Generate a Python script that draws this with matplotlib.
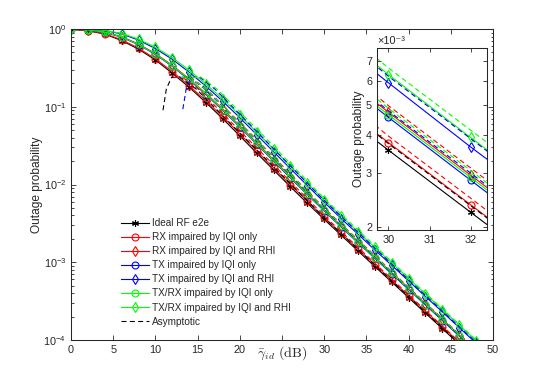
import matplotlib
matplotlib.use("Agg")
import matplotlib.pyplot as plt
from matplotlib.lines import Line2D
from matplotlib.ticker import LogLocator, NullLocator, NullFormatter, FixedLocator

plt.rcParams['font.family'] = ['Liberation Sans', 'DejaVu Sans']
plt.rcParams['mathtext.fontset'] = 'cm'

# average SNR (dB), markers every 2 dB
snr = [0, 2, 4, 6, 8, 10, 12, 14, 16, 18, 20, 22, 24, 26, 28, 30, 32, 34, 36, 38, 40, 42, 44, 46, 48, 50]
xtick_vals = [0, 5, 10, 15, 20, 25, 30, 35, 40, 45, 50]
# the 25 label is hidden under the axis label in the original
xtick_text = ['0', '5', '10', '15', '20', '', '30', '35', '40', '45', '50']

# outage probability
ideal = [0.99, 0.95, 0.86, 0.71, 0.55, 0.40, 0.27, 0.178, 0.113, 0.0697, 0.0422, 0.0254, 0.0154,
         0.00935, 0.00574, 0.00356, 0.00223, 0.0014, 0.000881, 0.000556, 0.000351, 0.000221,
         0.00014, 8.81e-5, 5.56e-5, 3.51e-5]
rx_iqi = [0.992, 0.955, 0.87, 0.726, 0.567, 0.414, 0.283, 0.187, 0.119, 0.0738, 0.0448, 0.027, 0.0163,
          0.00993, 0.00608, 0.00377, 0.00236, 0.00148, 0.00093, 0.000587, 0.000371, 0.000234,
          0.000148, 9.31e-5, 5.87e-5, 3.7e-5]
rx_iqi_rhi = [0.995, 0.974, 0.913, 0.796, 0.641, 0.483, 0.341, 0.229, 0.148, 0.0931, 0.057, 0.0344,
              0.0208, 0.0126, 0.00769, 0.00474, 0.00295, 0.00185, 0.00116, 0.000734, 0.000463,
              0.000292, 0.000185, 0.000116, 7.34e-5, 4.63e-5]
tx_iqi = [0.995, 0.971, 0.906, 0.784, 0.628, 0.471, 0.331, 0.221, 0.143, 0.0896, 0.0547, 0.0331, 0.02,
          0.0121, 0.0074, 0.00456, 0.00284, 0.00178, 0.00112, 0.000706, 0.000446, 0.000281,
          0.000178, 0.000112, 7.06e-5, 4.46e-5]
tx_iqi_rhi = [0.997, 0.992, 0.953, 0.866, 0.72, 0.56, 0.408, 0.278, 0.183, 0.117, 0.0722, 0.0438,
              0.0264, 0.016, 0.0097, 0.00592, 0.00365, 0.0023, 0.00144, 0.000912, 0.000576,
              0.000362, 0.00023, 0.000144, 9.12e-5, 5.76e-5]
trx_iqi = [0.995, 0.973, 0.909, 0.79, 0.634, 0.477, 0.336, 0.225, 0.146, 0.0913, 0.0559, 0.0337,
           0.0204, 0.0124, 0.00754, 0.00465, 0.0029, 0.00181, 0.00114, 0.00072, 0.000455, 0.000286,
           0.000181, 0.000114, 7.2e-5, 4.55e-5]
trx_iqi_rhi = [0.998, 0.993, 0.959, 0.879, 0.741, 0.582, 0.428, 0.295, 0.195, 0.125, 0.0777, 0.0472,
               0.0285, 0.0172, 0.0104, 0.0063, 0.00392, 0.00246, 0.00155, 0.000979, 0.000618,
               0.000389, 0.000246, 0.000155, 9.79e-5, 6.18e-5]

# asymptotic curves (dashed)
asym_ideal_x = [10.9, 11.3, 11.9, 12.9, 14.9, 22, 30, 40, 50]
asym_ideal = [0.0903, 0.170, 0.237, 0.242, 0.1667, 0.0279, 0.00374, 0.000362, 3.58e-5]
asym_rx_iqi_x = [12.14, 13.14, 15.14, 22, 30, 40, 50]
asym_rx_iqi = [0.237, 0.242, 0.1667, 0.0297, 0.00396, 0.000382, 3.77e-5]
asym_rx_iqi_rhi_x = [13.1, 14.1, 16.1, 22, 30, 40, 50]
asym_rx_iqi_rhi = [0.237, 0.242, 0.1667, 0.0378, 0.00498, 0.000477, 4.72e-5]
asym_tx_iqi_x = [12.94, 13.94, 15.94, 22, 30, 40, 50]
asym_tx_iqi = [0.237, 0.242, 0.1667, 0.0364, 0.00479, 0.000459, 4.55e-5]
asym_tx_iqi_rhi_x = [13.25, 13.65, 14.2, 15.2, 17.1, 22, 30, 40, 50]
asym_tx_iqi_rhi = [0.0930, 0.170, 0.237, 0.242, 0.1667, 0.0482, 0.00622, 0.000593, 5.88e-5]
asym_trx_iqi_x = [13.02, 14.02, 16.02, 22, 30, 40, 50]
asym_trx_iqi = [0.237, 0.242, 0.1667, 0.0371, 0.00488, 0.000469, 4.64e-5]
asym_trx_iqi_rhi_x = [14.35, 15.35, 17.35, 22, 30, 40, 50]
asym_trx_iqi_rhi = [0.237, 0.242, 0.1667, 0.0519, 0.00662, 0.000637, 6.3e-5]

labels = ['Ideal RF e2e', 'RX impaired by IQI only', 'RX impaired by IQI and RHI',
          'TX impaired by IQI only', 'TX impaired by IQI and RHI',
          'TX/RX impaired by IQI only', 'TX/RX impaired by IQI and RHI']

series = [
    (ideal, asym_ideal_x, asym_ideal, 'k', (6, 2, 0)),
    (rx_iqi, asym_rx_iqi_x, asym_rx_iqi, (1, 0, 0), 'o'),
    (rx_iqi_rhi, asym_rx_iqi_rhi_x, asym_rx_iqi_rhi, (1, 0, 0), 'd'),
    (tx_iqi, asym_tx_iqi_x, asym_tx_iqi, (0, 0, 1), 'o'),
    (tx_iqi_rhi, asym_tx_iqi_rhi_x, asym_tx_iqi_rhi, (0, 0, 1), 'd'),
    (trx_iqi, asym_trx_iqi_x, asym_trx_iqi, (0, 1, 0), 'o'),
    (trx_iqi_rhi, asym_trx_iqi_rhi_x, asym_trx_iqi_rhi, (0, 1, 0), 'd'),
]

W, H = 545, 382
fig = plt.figure(figsize=(W / 100, H / 100), dpi=100)
ax = fig.add_axes([71 / W, 1 - 340 / H, 422 / W, 311 / H])
ins = fig.add_axes([377 / W, 1 - 230 / H, 110 / W, 182 / H])

axcol = '#262626'
dash = (0, (4.5, 3))


def draw(a):
    handles = []
    for (y, ax_x, ay, c, m), lab in zip(series, labels):
        h, = a.plot(snr, y, color=c, lw=0.8, marker=m, ms=5, mfc='none', mew=0.8, label=lab)
        handles.append(h)
    for (y, ax_x, ay, c, m) in series:
        a.plot(ax_x, ay, color=c, lw=0.8, ls=dash)
    return handles


handles = draw(ax)
ax.set_yscale('log')
ax.set_xlim(0, 50)
ax.set_ylim(1e-4, 1)
ax.set_xticks(xtick_vals)
ax.set_xticklabels(xtick_text)
ax.yaxis.set_major_locator(LogLocator(base=10, numticks=10))
ax.yaxis.set_minor_locator(LogLocator(base=10, subs=range(2, 10), numticks=20))
ax.yaxis.set_minor_formatter(NullFormatter())
ax.tick_params(which='both', direction='in', top=True, right=True, colors=axcol,
               labelsize=7.8, width=0.6)
ax.tick_params(which='major', length=3.5)
ax.tick_params(which='minor', length=1.8)
for s in ax.spines.values():
    s.set_color(axcol)
    s.set_linewidth(0.75)
ax.set_ylabel('Outage probability', fontsize=8.6, color=axcol, labelpad=0)
ax.set_xlabel(r'$\bar{\gamma}_{id}\ \mathrm{(dB)}$', fontsize=10, color=axcol, labelpad=-8)

handles.append(Line2D([], [], color='k', lw=0.8, ls=dash))
leg = ax.legend(handles, labels + ['Asymptotic'], loc='upper left',
                bbox_to_anchor=(121 / W, 1 - 218 / H), bbox_transform=fig.transFigure,
                frameon=False, fontsize=7.2, handlelength=2.8, handletextpad=0.3,
                labelspacing=0.41, borderpad=0, borderaxespad=0)
for t in leg.get_texts():
    t.set_color(axcol)

# inset zoom
draw(ins)
ins.set_facecolor('white')
ins.set_yscale('log')
ins.set_xlim(29.72, 32.4)
ins.set_ylim(1.95e-3, 7.7e-3)
ins.xaxis.set_major_locator(FixedLocator([30, 31, 32]))
ins.yaxis.set_major_locator(FixedLocator([2e-3, 3e-3, 4e-3, 5e-3, 6e-3, 7e-3]))
ins.set_yticklabels(['2', '3', '4', '5', '6', '7'])
ins.yaxis.set_minor_locator(NullLocator())
ins.tick_params(which='both', direction='in', top=True, right=True, colors=axcol,
                labelsize=7.8, width=0.6, length=3)
for s in ins.spines.values():
    s.set_color(axcol)
    s.set_linewidth(0.75)
ins.set_ylabel('Outage probability', fontsize=8.6, color=axcol, labelpad=1)
ins.text(0.0, 1.01, '×10⁻³', transform=ins.transAxes, fontsize=7.8, color=axcol,
         ha='left', va='bottom')

fig.savefig('out.png', dpi=100)
